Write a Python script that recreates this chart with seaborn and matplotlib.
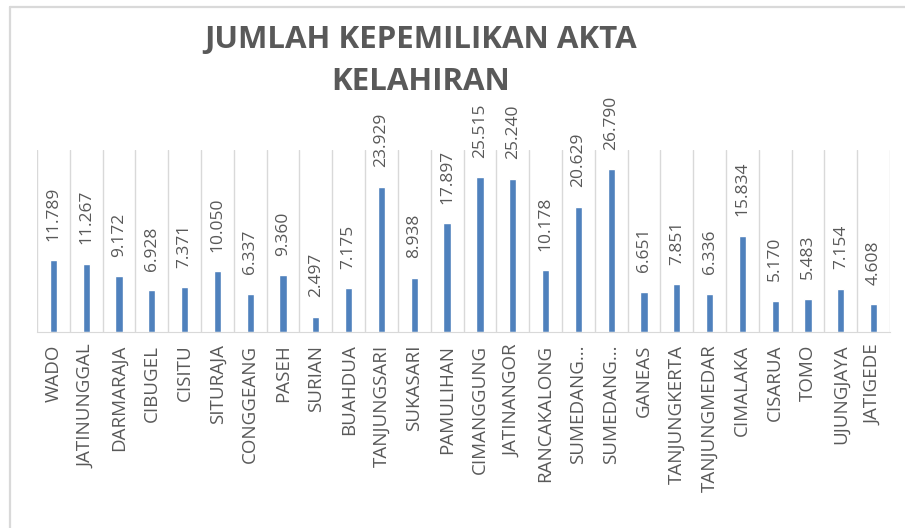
import matplotlib
matplotlib.use("Agg")
import matplotlib.pyplot as plt
from matplotlib.lines import Line2D
import seaborn as sns
import pandas as pd
import numpy as np

# kecamatan and jumlah akta kelahiran
kecamatan = ["WADO", "JATINUNGGAL", "DARMARAJA", "CIBUGEL", "CISITU", "SITURAJA",
             "CONGGEANG", "PASEH", "SURIAN", "BUAHDUA", "TANJUNGSARI", "SUKASARI",
             "PAMULIHAN", "CIMANGGUNG", "JATINANGOR", "RANCAKALONG", "SUMEDANG...",
             "SUMEDANG... ", "GANEAS", "TANJUNGKERTA", "TANJUNGMEDAR", "CIMALAKA",
             "CISARUA", "TOMO", "UJUNGJAYA", "JATIGEDE"]
jumlah = [11789, 11267, 9172, 6928, 7371, 10050,
          6337, 9360, 2497, 7175, 23929, 8938,
          17897, 25515, 25240, 10178, 20629,
          26790, 6651, 7851, 6336, 15834,
          5170, 5483, 7154, 4608]
title_text = "JUMLAH KEPEMILIKAN AKTA\nKELAHIRAN"

sns.set_style("white")
plt.rcParams['font.family'] = ['Open Sans', 'DejaVu Sans']
txt_color = "#595959"
grid_color = "#D9D9D9"
bar_color = "#4F81BD"

df = pd.DataFrame({"kecamatan": kecamatan, "jumlah": jumlah})

fig = plt.figure(figsize=(9.05, 5.28), dpi=100)
fig.set_facecolor('w')
ax = fig.add_axes([37/905, 1-332/528, (890-37)/905, (332-150)/528])

sns.barplot(data=df, x="kecamatan", y="jumlah", color=bar_color, width=0.22,
            saturation=1, ax=ax)
ax.set_ylim(0, 30000)
ax.set_xlim(-0.5, len(kecamatan)-0.5)

# value labels, indonesian thousands separator
labels = [f"{v:,}".replace(",", ".") for v in jumlah]
ax.bar_label(ax.containers[0], labels=labels, rotation=90, padding=14,
             fontsize=12.5, color=txt_color)

# vertical gridlines between categories
ax.set_xticks(np.arange(-0.5, len(kecamatan)), minor=True)
ax.grid(which="minor", axis="x", color=grid_color, linewidth=1)
ax.grid(which="major", visible=False)
ax.tick_params(axis="x", which="both", length=0, pad=9)
ax.set_xticks(range(len(kecamatan)))
ax.set_xticklabels([k.strip() for k in kecamatan], rotation=90, fontsize=13.5,
                   color=txt_color)
ax.set_yticks([])
ax.set_xlabel("")
ax.set_ylabel("")
for s in ["top", "left", "right"]:
    ax.spines[s].set_visible(False)
ax.spines["bottom"].set_color(grid_color)
ax.set_axisbelow(True)

# chart title
fig.text(421/905, 1-61/528, title_text, ha="center", va="center", fontsize=22.5,
         fontweight="bold", color=txt_color, linespacing=1.55)

# chart border (cropped)
fig.add_artist(Line2D([10/905, 10/905], [0, 1-7/528], color=grid_color, linewidth=1.6))
fig.add_artist(Line2D([10/905, 1], [1-7/528, 1-7/528], color=grid_color, linewidth=1.6))

plt.savefig("out.png", dpi=100)
